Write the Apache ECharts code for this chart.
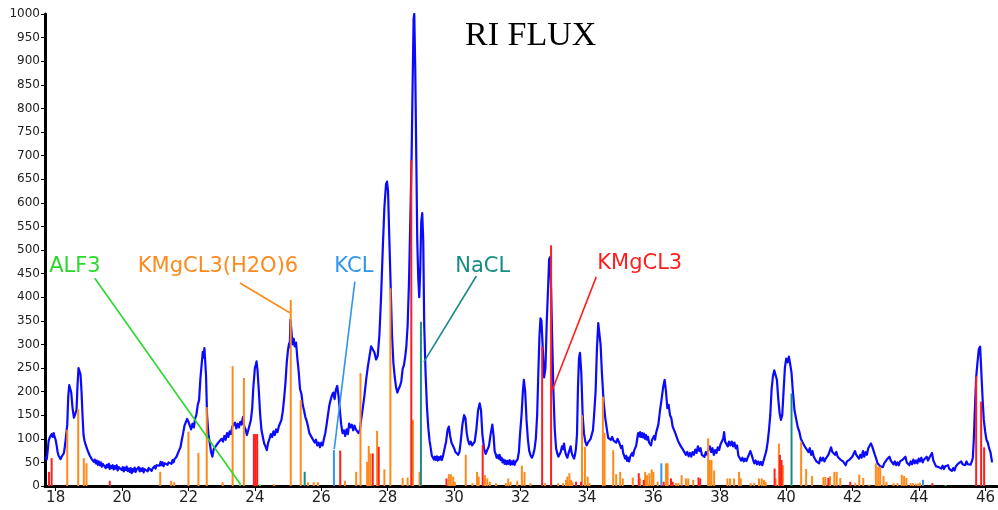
<!DOCTYPE html>
<html>
<head>
<meta charset="utf-8">
<script src="https://cdn.jsdelivr.net/npm/echarts@6/dist/echarts.min.js"></script>
<style>
  html, body { margin: 0; padding: 0; background: #fff; }
  #chart { width: 998px; height: 510px; }
</style>
</head>
<body>
<div id="chart"></div>
<script>
// 2-theta tick positions on the bottom axis
const twoThetaTicks = [18, 20, 22, 24, 26, 28, 30, 32, 34, 36, 38, 40, 42, 44, 46];

// Measured diffraction scan: [2-theta, counts]
const scan = [
  [17.70, 62], [17.73, 56], [17.76, 74], [17.79, 96], [17.82, 102], [17.85, 98], [17.88, 110],
  [17.91, 104], [17.94, 112], [17.97, 104], [18.00, 98], [18.03, 86], [18.06, 72], [18.09, 64],
  [18.12, 60], [18.15, 57], [18.18, 62], [18.21, 60], [18.25, 70], [18.29, 90], [18.32, 110],
  [18.35, 130], [18.38, 190], [18.41, 214], [18.44, 206], [18.47, 198], [18.51, 165], [18.55, 145],
  [18.59, 152], [18.63, 162], [18.66, 215], [18.69, 250], [18.72, 252], [18.75, 236], [18.78, 200],
  [18.81, 150], [18.84, 108], [18.87, 96], [18.90, 88], [18.93, 90], [18.96, 76], [19.00, 72],
  [19.03, 64], [19.06, 66], [19.09, 57], [19.12, 60], [19.15, 51], [19.18, 56], [19.21, 48],
  [19.24, 54], [19.27, 45], [19.30, 52], [19.33, 44], [19.36, 50], [19.39, 41], [19.42, 47],
  [19.45, 43], [19.48, 48], [19.51, 38], [19.54, 45], [19.57, 40], [19.60, 47], [19.63, 36],
  [19.66, 43], [19.69, 38], [19.72, 44], [19.75, 35], [19.78, 42], [19.81, 37], [19.84, 44],
  [19.87, 33], [19.90, 40], [19.93, 36], [19.96, 42], [19.99, 34], [20.02, 40], [20.05, 31],
  [20.08, 39], [20.11, 34], [20.14, 41], [20.17, 32], [20.20, 37], [20.23, 30], [20.26, 38],
  [20.29, 27], [20.32, 36], [20.35, 31], [20.38, 39], [20.41, 30], [20.44, 35], [20.47, 33],
  [20.50, 40], [20.53, 31], [20.56, 37], [20.59, 32], [20.62, 38], [20.65, 29], [20.68, 36],
  [20.71, 33], [20.74, 39], [20.77, 31], [20.80, 38], [20.83, 34], [20.86, 40], [20.89, 32],
  [20.92, 37], [20.95, 35], [20.98, 42], [21.01, 37], [21.04, 44], [21.07, 40], [21.10, 48],
  [21.13, 43], [21.16, 51], [21.19, 44], [21.22, 50], [21.25, 42], [21.28, 48], [21.31, 44],
  [21.34, 52], [21.37, 45], [21.40, 50], [21.43, 46], [21.46, 53], [21.49, 47], [21.52, 55],
  [21.55, 50], [21.58, 57], [21.61, 55], [21.64, 62], [21.68, 66], [21.72, 76], [21.76, 82],
  [21.80, 98], [21.84, 112], [21.88, 128], [21.92, 132], [21.96, 142], [22.00, 136], [22.04, 128],
  [22.08, 120], [22.12, 132], [22.16, 124], [22.20, 142], [22.24, 152], [22.28, 172], [22.32, 182],
  [22.36, 228], [22.40, 260], [22.43, 284], [22.46, 272], [22.48, 292], [22.50, 270], [22.53, 232],
  [22.56, 150], [22.60, 110], [22.64, 92], [22.68, 72], [22.72, 62], [22.76, 78], [22.80, 74],
  [22.84, 86], [22.88, 82], [22.92, 94], [22.96, 90], [23.00, 100], [23.04, 94], [23.08, 106],
  [23.12, 98], [23.16, 112], [23.20, 104], [23.24, 116], [23.28, 110], [23.32, 126], [23.36, 122],
  [23.40, 134], [23.44, 122], [23.48, 132], [23.52, 124], [23.56, 136], [23.60, 130], [23.64, 146],
  [23.68, 126], [23.72, 120], [23.76, 108], [23.80, 118], [23.84, 122], [23.88, 140], [23.92, 165],
  [23.95, 205], [24.00, 250], [24.03, 258], [24.05, 264], [24.08, 245], [24.12, 200], [24.16, 150],
  [24.20, 118], [24.24, 104], [24.28, 90], [24.32, 84], [24.36, 76], [24.40, 92], [24.44, 100],
  [24.48, 110], [24.52, 104], [24.56, 116], [24.60, 108], [24.64, 120], [24.68, 114], [24.72, 126],
  [24.76, 124], [24.80, 140], [24.84, 158], [24.88, 185], [24.92, 218], [24.96, 262], [25.00, 290],
  [25.03, 302], [25.05, 294], [25.07, 352], [25.10, 330], [25.13, 300], [25.17, 312], [25.20, 296],
  [25.24, 304], [25.28, 270], [25.32, 242], [25.36, 205], [25.40, 196], [25.44, 172], [25.48, 160],
  [25.52, 146], [25.56, 138], [25.60, 126], [25.64, 112], [25.68, 116], [25.72, 102], [25.76, 106],
  [25.80, 92], [25.84, 98], [25.88, 86], [25.92, 92], [25.96, 82], [26.00, 92], [26.04, 86],
  [26.08, 100], [26.12, 112], [26.16, 130], [26.20, 150], [26.24, 170], [26.28, 182], [26.32, 192],
  [26.36, 198], [26.40, 184], [26.44, 204], [26.48, 212], [26.52, 190], [26.56, 160], [26.60, 130],
  [26.64, 112], [26.68, 118], [26.72, 106], [26.76, 120], [26.80, 110], [26.84, 132], [26.88, 124],
  [26.92, 130], [26.96, 118], [27.00, 128], [27.04, 120], [27.08, 124], [27.12, 112], [27.16, 118],
  [27.20, 140], [27.25, 165], [27.30, 192], [27.35, 225], [27.40, 252], [27.45, 274], [27.50, 296],
  [27.55, 300], [27.60, 283], [27.65, 268], [27.70, 276], [27.75, 320], [27.80, 400], [27.85, 500],
  [27.90, 590], [27.95, 640], [27.98, 645], [28.01, 625], [28.05, 520], [28.09, 420], [28.13, 320],
  [28.17, 262], [28.21, 232], [28.25, 210], [28.29, 198], [28.33, 206], [28.37, 212], [28.41, 222],
  [28.45, 248], [28.49, 256], [28.53, 276], [28.56, 295], [28.60, 340], [28.64, 430], [28.68, 560],
  [28.72, 700], [28.75, 850], [28.78, 990], [28.80, 1000], [28.83, 880], [28.86, 700], [28.89, 520],
  [28.92, 440], [28.95, 400], [28.98, 460], [29.01, 560], [29.04, 578], [29.07, 520], [29.10, 340],
  [29.14, 240], [29.18, 170], [29.22, 125], [29.26, 96], [29.30, 78], [29.33, 64], [29.36, 66],
  [29.39, 56], [29.42, 62], [29.45, 55], [29.48, 63], [29.51, 54], [29.54, 61], [29.57, 56],
  [29.60, 63], [29.63, 55], [29.66, 62], [29.69, 58], [29.72, 66], [29.76, 95], [29.80, 118],
  [29.84, 126], [29.88, 106], [29.92, 92], [29.96, 86], [30.00, 80], [30.04, 72], [30.08, 74],
  [30.12, 66], [30.16, 72], [30.20, 95], [30.25, 130], [30.30, 150], [30.34, 144], [30.38, 112],
  [30.42, 96], [30.46, 88], [30.50, 94], [30.54, 86], [30.58, 90], [30.62, 94], [30.67, 120],
  [30.72, 160], [30.77, 175], [30.81, 160], [30.85, 110], [30.90, 80], [30.95, 68], [31.00, 72],
  [31.05, 85], [31.10, 110], [31.15, 130], [31.19, 105], [31.22, 74], [31.25, 68], [31.28, 60],
  [31.31, 65], [31.34, 58], [31.37, 66], [31.40, 55], [31.43, 60], [31.46, 50], [31.49, 56],
  [31.52, 47], [31.55, 54], [31.58, 46], [31.61, 53], [31.64, 47], [31.67, 55], [31.70, 45],
  [31.73, 52], [31.76, 46], [31.79, 54], [31.82, 45], [31.85, 51], [31.88, 47], [31.91, 56],
  [31.95, 72], [31.98, 105], [32.03, 150], [32.07, 200], [32.10, 225], [32.14, 200], [32.18, 140],
  [32.22, 100], [32.26, 75], [32.30, 65], [32.34, 60], [32.38, 66], [32.42, 78], [32.46, 100],
  [32.50, 150], [32.54, 250], [32.57, 318], [32.60, 355], [32.63, 350], [32.67, 290], [32.71, 230],
  [32.75, 250], [32.79, 350], [32.83, 420], [32.86, 480], [32.89, 485], [32.92, 420], [32.95, 320],
  [32.99, 200], [33.03, 120], [33.07, 80], [33.11, 68], [33.14, 62], [33.17, 66], [33.21, 72],
  [33.25, 84], [33.28, 78], [33.31, 90], [33.34, 74], [33.37, 66], [33.41, 60], [33.44, 68],
  [33.47, 64], [33.51, 84], [33.54, 70], [33.57, 64], [33.61, 58], [33.64, 66], [33.67, 80],
  [33.70, 110], [33.73, 210], [33.76, 270], [33.79, 282], [33.83, 240], [33.87, 150], [33.91, 112],
  [33.95, 94], [33.99, 86], [34.03, 92], [34.07, 88], [34.11, 100], [34.15, 104], [34.18, 118],
  [34.21, 145], [34.26, 200], [34.30, 290], [34.34, 345], [34.37, 348], [34.41, 300], [34.45, 240],
  [34.50, 180], [34.55, 145], [34.60, 120], [34.64, 102], [34.68, 106], [34.72, 98], [34.76, 104],
  [34.80, 96], [34.84, 100], [34.88, 92], [34.92, 100], [34.96, 94], [35.00, 90], [35.03, 80],
  [35.06, 85], [35.09, 70], [35.12, 66], [35.15, 58], [35.18, 64], [35.21, 53], [35.24, 60],
  [35.27, 52], [35.30, 62], [35.33, 58], [35.36, 70], [35.39, 64], [35.42, 75], [35.45, 72],
  [35.48, 85], [35.51, 98], [35.54, 112], [35.57, 105], [35.60, 114], [35.63, 104], [35.66, 112],
  [35.69, 103], [35.72, 111], [35.75, 100], [35.78, 108], [35.81, 98], [35.84, 104], [35.87, 92],
  [35.90, 96], [35.93, 86], [35.96, 98], [35.99, 95], [36.02, 106], [36.05, 98], [36.08, 112],
  [36.11, 120], [36.15, 130], [36.20, 160], [36.25, 185], [36.30, 212], [36.34, 225], [36.38, 200],
  [36.42, 165], [36.46, 172], [36.50, 150], [36.54, 144], [36.58, 126], [36.62, 130], [36.66, 112],
  [36.70, 108], [36.74, 96], [36.78, 94], [36.82, 85], [36.86, 88], [36.90, 76], [36.94, 78],
  [36.98, 66], [37.02, 72], [37.06, 63], [37.10, 70], [37.14, 62], [37.18, 72], [37.22, 66],
  [37.26, 77], [37.30, 70], [37.34, 84], [37.38, 74], [37.42, 80], [37.46, 66], [37.50, 70],
  [37.54, 62], [37.58, 72], [37.62, 66], [37.66, 78], [37.70, 84], [37.74, 72], [37.78, 80],
  [37.82, 66], [37.86, 76], [37.90, 70], [37.94, 82], [37.98, 76], [38.02, 88], [38.06, 84],
  [38.10, 100], [38.13, 114], [38.16, 94], [38.20, 90], [38.24, 84], [38.28, 94], [38.32, 86],
  [38.36, 94], [38.40, 84], [38.44, 92], [38.48, 80], [38.52, 86], [38.56, 64], [38.60, 62],
  [38.64, 54], [38.68, 60], [38.72, 52], [38.76, 58], [38.80, 53], [38.84, 60], [38.88, 56],
  [38.92, 74], [38.96, 66], [39.00, 56], [39.04, 48], [39.08, 54], [39.12, 46], [39.16, 52],
  [39.20, 45], [39.24, 51], [39.28, 44], [39.32, 54], [39.36, 56], [39.40, 74], [39.44, 92],
  [39.48, 118], [39.52, 150], [39.56, 205], [39.60, 232], [39.64, 245], [39.68, 248], [39.72, 225],
  [39.76, 185], [39.80, 155], [39.84, 140], [39.88, 150], [39.92, 200], [39.96, 250], [40.00, 270],
  [40.04, 262], [40.08, 274], [40.12, 258], [40.16, 240], [40.20, 200], [40.25, 160], [40.30, 142],
  [40.35, 124], [40.40, 114], [40.44, 100], [40.48, 96], [40.51, 90], [40.55, 88], [40.59, 80],
  [40.63, 84], [40.67, 72], [40.71, 80], [40.75, 66], [40.79, 74], [40.83, 62], [40.87, 64],
  [40.91, 52], [40.95, 56], [40.99, 48], [41.03, 60], [41.07, 54], [41.11, 60], [41.15, 52],
  [41.19, 58], [41.23, 54], [41.27, 66], [41.31, 64], [41.35, 82], [41.39, 72], [41.43, 76],
  [41.47, 66], [41.51, 72], [41.55, 62], [41.59, 66], [41.63, 56], [41.67, 60], [41.71, 52],
  [41.75, 54], [41.79, 44], [41.83, 52], [41.87, 48], [41.91, 56], [41.95, 52], [41.99, 62],
  [42.03, 58], [42.07, 74], [42.11, 66], [42.15, 70], [42.19, 58], [42.23, 66], [42.27, 60],
  [42.31, 74], [42.35, 62], [42.39, 72], [42.43, 66], [42.47, 80], [42.51, 78], [42.55, 90],
  [42.59, 84], [42.63, 88], [42.67, 66], [42.71, 58], [42.75, 48], [42.79, 52], [42.83, 42],
  [42.87, 46], [42.91, 40], [42.95, 48], [42.99, 46], [43.03, 56], [43.07, 52], [43.11, 62],
  [43.15, 54], [43.19, 56], [43.23, 46], [43.27, 52], [43.31, 44], [43.35, 50], [43.39, 44],
  [43.43, 52], [43.47, 48], [43.51, 56], [43.55, 52], [43.59, 62], [43.63, 50], [43.67, 54],
  [43.71, 44], [43.75, 52], [43.79, 46], [43.83, 56], [43.87, 48], [43.91, 54], [43.95, 48],
  [43.99, 58], [44.03, 52], [44.07, 60], [44.11, 50], [44.15, 56], [44.19, 52], [44.23, 62],
  [44.27, 54], [44.31, 60], [44.35, 56], [44.39, 70], [44.43, 54], [44.47, 48], [44.51, 42],
  [44.55, 46], [44.59, 40], [44.63, 44], [44.67, 37], [44.71, 43], [44.75, 36], [44.79, 42],
  [44.83, 38], [44.87, 44], [44.91, 36], [44.95, 40], [44.99, 32], [45.03, 38], [45.07, 33],
  [45.11, 42], [45.15, 40], [45.19, 48], [45.23, 44], [45.27, 52], [45.31, 46], [45.35, 50],
  [45.39, 44], [45.43, 52], [45.47, 46], [45.51, 50], [45.55, 45], [45.59, 52], [45.62, 60],
  [45.65, 100], [45.68, 160], [45.72, 230], [45.76, 262], [45.80, 290], [45.84, 295], [45.87, 250],
  [45.91, 190], [45.95, 140], [45.99, 116], [46.03, 98], [46.07, 92], [46.11, 80], [46.15, 72],
  [46.20, 50]
];

// Reference stick patterns: [2-theta, relative intensity]
const carnallitePeaks = [
  [18.35, 119], [18.68, 163], [18.85, 59], [18.93, 48], [21.15, 30], [21.48, 11], [21.57, 8],
  [22.00, 115], [22.30, 70], [22.55, 167], [23.03, 8], [23.33, 254], [23.67, 229], [24.58, 4],
  [25.08, 394], [25.38, 182], [25.60, 8], [25.77, 8], [25.90, 8], [26.71, 11], [27.05, 30],
  [27.18, 239], [27.38, 51], [27.43, 85], [27.48, 69], [27.68, 117], [27.90, 35], [28.08, 419],
  [28.45, 17], [28.60, 18], [28.76, 140], [28.96, 30], [29.84, 25], [29.90, 25], [29.97, 20],
  [30.02, 9], [30.35, 66], [30.55, 6], [30.69, 30], [30.74, 20], [30.93, 23], [31.00, 16],
  [31.08, 9], [31.26, 6], [31.56, 6], [31.63, 16], [31.70, 9], [31.90, 11], [32.04, 43],
  [32.12, 30], [32.30, 6], [32.74, 6], [33.13, 6], [33.28, 6], [33.37, 13], [33.41, 20],
  [33.47, 27], [33.52, 13], [33.56, 9], [33.85, 150], [33.94, 83], [34.02, 20], [34.08, 6],
  [34.48, 189], [34.53, 112], [34.79, 76], [34.88, 25], [35.00, 30], [35.08, 16], [35.38, 18],
  [35.60, 16], [35.75, 30], [35.81, 23], [35.88, 27], [35.95, 35], [36.00, 30], [36.13, 9],
  [36.38, 48], [36.43, 48], [36.68, 6], [36.75, 6], [36.85, 23], [36.98, 16], [37.05, 16],
  [37.20, 13], [37.65, 101], [37.70, 55], [37.75, 55], [37.83, 33], [38.23, 16], [38.31, 16],
  [38.43, 16], [38.58, 30], [38.63, 16], [38.93, 6], [39.03, 6], [39.18, 16], [39.26, 16],
  [39.33, 13], [39.38, 9], [39.68, 16], [39.78, 90], [39.90, 44], [40.45, 94], [40.60, 36],
  [40.78, 21], [41.12, 19], [41.18, 19], [41.32, 21], [41.45, 30], [41.52, 30], [41.63, 17],
  [42.08, 6], [42.20, 24], [42.32, 17], [42.50, 3], [42.70, 48], [42.77, 41], [42.83, 41],
  [42.93, 21], [43.02, 9], [43.23, 6], [43.35, 6], [43.48, 24], [43.55, 21], [43.62, 17],
  [43.75, 6], [43.82, 6], [43.90, 5], [43.97, 5], [44.03, 7]
];
const kmgcl3Peaks = [
  [17.80, 30], [17.88, 59], [19.63, 11], [23.97, 110], [24.02, 110], [24.07, 110], [26.57, 75],
  [27.55, 69], [27.73, 83], [28.71, 690], [29.77, 16], [30.86, 87], [32.65, 295], [32.92, 510],
  [33.67, 9], [33.82, 9], [35.56, 27], [35.71, 13], [36.31, 9], [36.53, 16], [36.58, 9],
  [37.36, 18], [37.41, 16], [39.65, 37], [39.81, 66], [39.86, 55], [41.27, 17], [41.93, 9],
  [44.40, 6], [45.72, 233], [45.87, 179], [45.96, 82]
];
const kclPeaks = [[26.38, 76], [36.24, 48], [44.12, 13]];
const naclPeaks = [[25.50, 30], [29.00, 348], [40.16, 196]];
const alf3Peaks = [[23.55, 3], [24.15, 3], [44.80, 2]];

// Phase labels: text placement and the point each leader line runs to
const phaseLayout = {
  ALF3:            { color: '#2ad82a', text: [18.58, 464], from: [19.18, 440], to: [23.57, 3] },
  'KMgCL3(H2O)6':  { color: '#ff8a1c', text: [22.89, 464], from: [23.55, 430], to: [25.05, 367] },
  KCL:             { color: '#2f95f0', text: [26.98, 464], from: [27.01, 433], to: [26.39, 78] },
  NaCL:            { color: '#178c86', text: [30.86, 464], from: [30.67, 445], to: [29.09, 263] },
  KMgCL3:          { color: '#ff1e1e', text: [35.59, 471], from: [34.28, 443], to: [32.91, 195] }
};

const phases = [
  ['ALF3', alf3Peaks],
  ['KMgCL3(H2O)6', carnallitePeaks],
  ['KCL', kclPeaks],
  ['NaCL', naclPeaks],
  ['KMgCL3', kmgcl3Peaks]
];

function stickRenderer(width) {
  return function (params, api) {
    const base = api.coord([api.value(0), 0]);
    const top = api.coord([api.value(0), api.value(1)]);
    return {
      type: 'rect',
      shape: { x: base[0] - width / 2, y: top[1], width: width, height: base[1] - top[1] },
      style: { fill: api.visual('color') }
    };
  };
}

const stickSeries = phases.map(([name, peaks]) => {
  const lay = phaseLayout[name];
  return {
    type: 'custom',
    name: name,
    data: peaks,
    encode: { x: 0, y: 1 },
    renderItem: stickRenderer(2),
    itemStyle: { color: lay.color },
    silent: true,
    z: 3,
    markLine: {
      silent: true,
      symbol: 'none',
      animation: false,
      label: { show: false },
      lineStyle: { color: lay.color, width: 1.6, type: 'solid' },
      emphasis: { disabled: true },
      data: [[{ coord: lay.from }, { coord: lay.to }]]
    },
    markPoint: {
      silent: true,
      animation: false,
      symbol: 'rect',
      symbolSize: 1,
      itemStyle: { color: 'rgba(0,0,0,0)' },
      label: {
        show: true,
        position: 'inside',
        formatter: name,
        color: lay.color,
        fontFamily: 'DejaVu Sans',
        fontSize: 21
      },
      data: [{ coord: lay.text }]
    }
  };
});

const chart = echarts.init(document.getElementById('chart'), null, { renderer: 'canvas' });
chart.setOption({
  animation: false,
  backgroundColor: '#fff',
  title: {
    text: 'RI FLUX',
    left: 460,
    top: 14,
    textStyle: { fontFamily: 'Liberation Serif', fontSize: 34, fontWeight: 'normal', color: '#000' }
  },
  grid: { left: 45, right: 0, top: 14, bottom: 24, containLabel: false },
  xAxis: {
    type: 'value',
    min: 17.68,
    max: 46.35,
    axisLine: { show: true, onZero: false, lineStyle: { color: '#000', width: 3 } },
    axisTick: { show: true, customValues: twoThetaTicks, length: 5, lineStyle: { color: '#000', width: 1 } },
    axisLabel: { customValues: twoThetaTicks, fontFamily: 'DejaVu Sans', fontSize: 15, color: '#222', margin: 5 },
    splitLine: { show: false }
  },
  yAxis: {
    type: 'value',
    min: 0,
    max: 1000,
    interval: 50,
    axisLine: { show: true, lineStyle: { color: '#000', width: 3 } },
    axisTick: { show: true, length: 4, lineStyle: { color: '#000', width: 1 } },
    axisLabel: {
      fontFamily: 'DejaVu Sans', fontSize: 12, color: '#222', margin: 5,
      showMinLabel: true, showMaxLabel: true,
      formatter: (v) => String(v)
    },
    splitLine: { show: false }
  },
  series: [
    {
      type: 'line',
      name: 'RI FLUX',
      data: scan,
      smooth: false,
      sampling: 'none',
      showSymbol: false,
      symbol: 'none',
      silent: true,
      z: 2,
      lineStyle: { color: '#0a0aff', width: 2.2, join: 'round' }
    }
  ].concat(stickSeries)
});
</script>
</body>
</html>
